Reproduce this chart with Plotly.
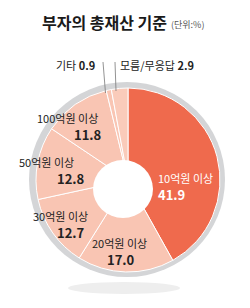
import plotly.graph_objects as go

W, H = 250, 308

categories = ["10억원 이상", "20억원 이상", "30억원 이상", "50억원 이상", "100억원 이상", "기타", "모름/무응답"]
values = [41.9, 17.0, 12.7, 12.8, 11.8, 0.9, 2.9]
colors = ["#EF6A4D", "#F9C5B3", "#F9C5B3", "#F9C5B3", "#F9C5B3", "#F9C5B3", "#FACBBA"]

def px(x):
    return x / W

def py(y):
    return 1 - y / H

FONT = "Noto Sans CJK KR"

fig = go.Figure()
fig.add_trace(go.Pie(
    labels=categories, values=values, sort=False, direction="clockwise", rotation=0,
    marker=dict(colors=colors, line=dict(color="white", width=1)),
    textinfo="none", hoverinfo="label+value", showlegend=False,
    domain=dict(x=[px(36), px(220)], y=[py(272), py(88)]),
))

shapes = [
    dict(type="circle", xref="paper", yref="paper", x0=px(68), x1=px(180), y0=py(294), y1=py(282),
         fillcolor="#EEEEEE", line=dict(width=0), layer="below"),
    dict(type="circle", xref="paper", yref="paper", x0=px(29), x1=px(225), y0=py(277), y1=py(82),
         fillcolor="#D4D5D7", line=dict(width=0), layer="below"),
    dict(type="circle", xref="paper", yref="paper", x0=px(93), x1=px(153), y0=py(218), y1=py(160),
         fillcolor="white", line=dict(width=0), layer="above"),
    dict(type="line", xref="paper", yref="paper", x0=px(103), y0=py(62), x1=px(105.5), y1=py(93),
         line=dict(color="#777777", width=0.8)),
    dict(type="line", xref="paper", yref="paper", x0=px(115), y0=py(62), x1=px(116), y1=py(91),
         line=dict(color="#777777", width=0.8)),
]

ann = []
def A(x, y, text, size, color="#222222", bold=False, anchor="left"):
    t = f"<b>{text}</b>" if bold else text
    ann.append(dict(x=px(x), y=py(y), xref="paper", yref="paper", text=t, showarrow=False,
                    xanchor=anchor, yanchor="middle", borderpad=0,
                    font=dict(family=FONT, size=size, color=color)))

A(104, 22, "부자의 총재산 기준", 16, "#1a1a1a", True, anchor="center")
A(170, 24, "(단위:%)", 9, "#555555")
A(55, 65, "기타 <b>0.9</b>", 11)
A(119, 65, "모름/무응답 <b>2.9</b>", 11)
A(67, 118, "100억원 이상", 11, anchor="center")
A(88, 134, "11.8", 13, bold=True, anchor="center")
A(46, 162, "50억원 이상", 11, anchor="center")
A(71, 178, "12.8", 13, bold=True, anchor="center")
A(60, 216, "30억원 이상", 11, anchor="center")
A(71, 232, "12.7", 13, bold=True, anchor="center")
A(119, 243, "20억원 이상", 11, anchor="center")
A(121, 259, "17.0", 13, bold=True, anchor="center")
A(157, 178, "10억원 이상", 11, "white")
A(157, 194, "41.9", 13, "white", True)

fig.update_layout(
    width=W, height=H, margin=dict(l=0, r=0, t=0, b=0),
    paper_bgcolor="white", plot_bgcolor="white",
    shapes=shapes, annotations=ann,
)
fig.write_html("out.html")
